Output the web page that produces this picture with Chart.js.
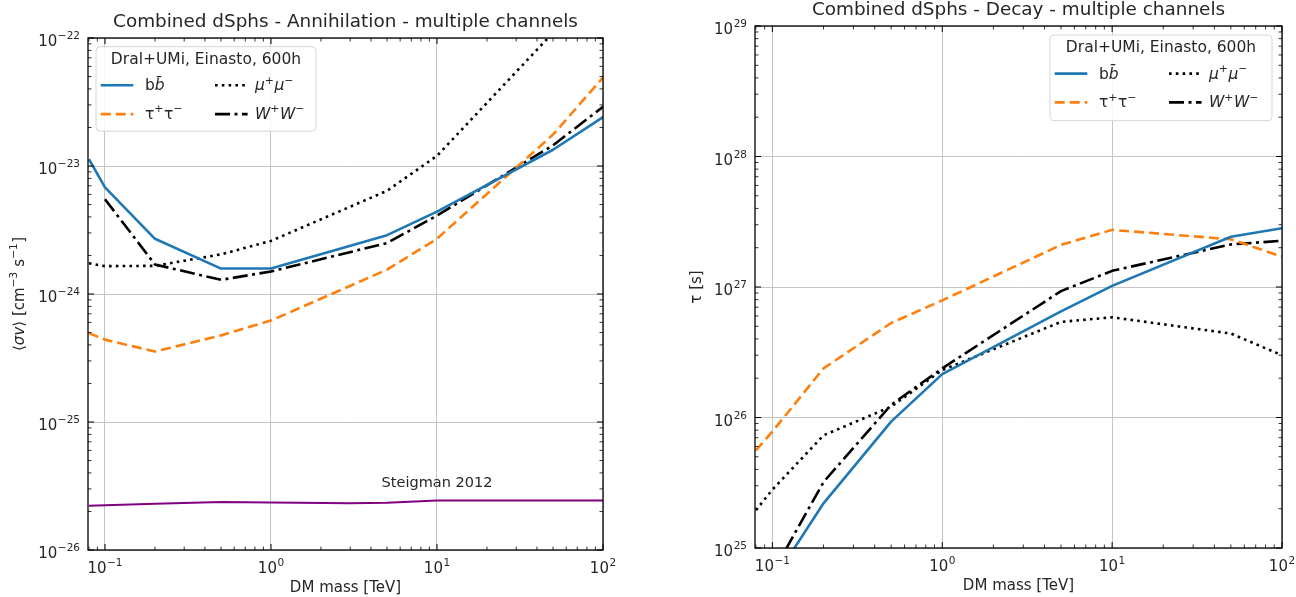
<!DOCTYPE html>
<html>
<head>
<meta charset="utf-8">
<script src="https://cdn.jsdelivr.net/npm/chart.js@4.4.0/dist/chart.umd.min.js"></script>
<style>
  body { margin: 0; background: #fff; }
  #wrap { position: relative; width: 1296px; height: 597px; }
  .box { position: absolute; top: 0; width: 648px; height: 597px; }
</style>
</head>
<body>
<div id="wrap">
  <div class="box" style="left:0"><canvas id="annChart" width="648" height="597"></canvas></div>
  <div class="box" style="left:648px"><canvas id="decChart" width="648" height="597"></canvas></div>
</div>
<script>
// DM masses in TeV
const massAnn = [0.08, 0.1, 0.2, 0.5, 1, 5, 10, 50, 100];
const bbAnn = [1.13e-23, 6.8e-24, 2.7e-24, 1.58e-24, 1.58e-24, 2.88e-24, 4.4e-24, 1.34e-23, 2.41e-23];
const tauAnn = [4.95e-25, 4.4e-25, 3.55e-25, 4.75e-25, 6.2e-25, 1.55e-24, 2.7e-24, 1.76e-23, 4.9e-23];
const muAnn = [1.74e-24, 1.65e-24, 1.66e-24, 2.04e-24, 2.6e-24, 6.4e-24, 1.2e-23, 1.1e-22, 2.2e-22];
const wwAnn = [null, 5.5e-24, 1.7e-24, 1.29e-24, 1.5e-24, 2.5e-24, 4.1e-24, 1.45e-23, 2.9e-23];

const massSteigman = [0.08, 0.2, 0.5, 1, 3, 5, 10, 100];
const steigman = [2.22e-26, 2.3e-26, 2.37e-26, 2.35e-26, 2.32e-26, 2.34e-26, 2.44e-26, 2.44e-26];

const massDec = [0.08, 0.1, 0.2, 0.5, 1, 5, 10, 50, 100];
const bbDec = [null, 5.5e24, 2.2e25, 9.3e25, 2.15e26, 6.5e26, 1.02e27, 2.43e27, 2.82e27];
const tauDec = [5.6e25, 7.8e25, 2.38e26, 5.3e26, 7.9e26, 2.1e27, 2.74e27, 2.32e27, 1.71e27];
const muDec = [1.95e25, 2.8e25, 7.3e25, 1.21e26, 2.31e26, 5.4e26, 5.86e26, 4.4e26, 3.0e26];
const wwDec = [null, 6.4e24, 3.2e25, 1.25e26, 2.38e26, 9.3e26, 1.33e27, 2.12e27, 2.26e27];

const xTicks = [0.1, 1, 10, 100];
const yTicksAnn = [1e-26, 1e-25, 1e-24, 1e-23, 1e-22];
const yTicksDec = [1e25, 1e26, 1e27, 1e28, 1e29];

const FONT = '"DejaVu Sans"';
const TXT = '#262626';
const MINUS = '\u2212';

function lineSet(label, xs, ys, color, dash, width) {
  return {
    label,
    data: xs.map((x, i) => ({ x, y: ys[i] })),
    borderColor: color,
    borderDash: dash,
    borderWidth: width,
    borderCapStyle: 'butt',
    borderJoinStyle: 'round',
    pointRadius: 0,
    fill: false,
    tension: 0,
    clip: 0,
    spanGaps: false
  };
}

function richFont(p, size) {
  return (p.it ? 'italic ' : '') + (p.sup ? size * 0.7 : size) + 'px ' + FONT;
}

function richWidth(ctx, parts, size) {
  return parts.reduce((w, p) => {
    ctx.font = richFont(p, size);
    return w + ctx.measureText(p.t).width + (p.sup ? 0.5 : 0);
  }, 0);
}

// draws a run of text pieces, some italic / superscript; y is the middle line
function drawRich(ctx, parts, x, y, size) {
  ctx.textAlign = 'left';
  ctx.textBaseline = 'middle';
  let cx = x;
  parts.forEach(p => {
    ctx.font = richFont(p, size);
    ctx.fillText(p.t, cx, p.sup ? y - size * 0.36 : y);
    cx += ctx.measureText(p.t).width + (p.sup ? 0.5 : 0);
  });
}

// "10" with raised exponent, mathtext style; y is the baseline
function drawPow(ctx, v, x, y, align) {
  const e = Math.round(Math.log10(v));
  const base = '10', exp = String(e).replace('-', MINUS);
  ctx.textBaseline = 'alphabetic';
  ctx.textAlign = 'left';
  ctx.font = '15px ' + FONT;
  const wb = ctx.measureText(base).width;
  ctx.font = '10.5px ' + FONT;
  const we = ctx.measureText(exp).width;
  const total = wb + 0.5 + we;
  const x0 = align === 'center' ? x - total / 2 : x - total;
  ctx.font = '15px ' + FONT;
  ctx.fillText(base, x0, y);
  ctx.font = '10.5px ' + FONT;
  ctx.fillText(exp, x0 + wb + 0.5, y - 7);
}

// inward ticks on all four sides, black frame, tick labels, titles
const frameTicks = {
  id: 'frameTicks',
  afterDatasetsDraw(chart, args, opts) {
    const { ctx, chartArea: a } = chart;
    const xs = chart.scales.x, ys = chart.scales.y;
    ctx.save();
    ctx.strokeStyle = '#000';
    const each = (scale, fn) => {
      const lo = Math.floor(Math.log10(scale.min)), hi = Math.ceil(Math.log10(scale.max));
      for (let d = lo; d <= hi; d++) {
        for (let k = 1; k <= 9; k++) {
          const v = k * Math.pow(10, d);
          if (v < scale.min * 0.999 || v > scale.max * 1.001) continue;
          fn(scale.getPixelForValue(v), k === 1);
        }
      }
    };
    each(xs, (px, major) => {
      const len = major ? 6 : 3.5;
      ctx.lineWidth = major ? 1 : 0.8;
      ctx.beginPath();
      ctx.moveTo(px, a.bottom); ctx.lineTo(px, a.bottom - len);
      ctx.moveTo(px, a.top); ctx.lineTo(px, a.top + len);
      ctx.stroke();
    });
    each(ys, (py, major) => {
      const len = major ? 6 : 3.5;
      ctx.lineWidth = major ? 1 : 0.8;
      ctx.beginPath();
      ctx.moveTo(a.left, py); ctx.lineTo(a.left + len, py);
      ctx.moveTo(a.right, py); ctx.lineTo(a.right - len, py);
      ctx.stroke();
    });
    ctx.lineWidth = 1.3;
    ctx.strokeRect(a.left, a.top, a.right - a.left, a.bottom - a.top);

    ctx.fillStyle = TXT;
    xs.ticks.forEach(t => drawPow(ctx, t.value, xs.getPixelForValue(t.value), a.bottom + 23, 'center'));
    ys.ticks.forEach(t => drawPow(ctx, t.value, a.left - 8, ys.getPixelForValue(t.value) + 8, 'right'));

    ctx.font = '18.4px ' + FONT;
    ctx.textAlign = 'center';
    ctx.textBaseline = 'middle';
    ctx.fillText(opts.title, (a.left + a.right) / 2, opts.titleY);

    // rotated y-axis title with real superscripts
    ctx.save();
    ctx.translate(opts.yTitleX, (a.top + a.bottom) / 2);
    ctx.rotate(-Math.PI / 2);
    const tw = richWidth(ctx, opts.yTitle, 15);
    drawRich(ctx, opts.yTitle, -tw / 2, 0, 15);
    ctx.restore();

    if (opts.note) {
      ctx.font = '14.5px ' + FONT;
      ctx.textAlign = 'center';
      ctx.textBaseline = 'middle';
      ctx.fillText(opts.note.text, xs.getPixelForValue(opts.note.x), ys.getPixelForValue(opts.note.y));
    }
    ctx.restore();
  }
};

const boxLegend = {
  id: 'boxLegend',
  afterDraw(chart, args, opts) {
    const ctx = chart.ctx;
    const { x, y, w, h } = opts;
    ctx.save();
    ctx.beginPath();
    ctx.roundRect(x, y, w, h, 4);
    ctx.fillStyle = 'rgba(255,255,255,0.85)';
    ctx.fill();
    ctx.strokeStyle = '#d6d6d6';
    ctx.lineWidth = 1;
    ctx.stroke();
    ctx.fillStyle = TXT;
    ctx.font = '15.5px ' + FONT;
    ctx.textAlign = 'center';
    ctx.textBaseline = 'middle';
    ctx.fillText(opts.title, x + w / 2, y + 13);
    opts.items.forEach(it => {
      const ds = chart.data.datasets[it.ds];
      const hx = x + (it.col ? 119 : 4.7);
      const ly = y + (it.row ? 67.4 : 38.6);
      ctx.strokeStyle = ds.borderColor;
      ctx.lineWidth = ds.borderWidth;
      ctx.lineCap = 'butt';
      ctx.setLineDash(ds.borderDash || []);
      ctx.beginPath();
      ctx.moveTo(hx, ly); ctx.lineTo(hx + 32.6, ly);
      ctx.stroke();
      ctx.setLineDash([]);
      ctx.fillStyle = TXT;
      drawRich(ctx, it.parts, x + (it.col ? 159 : 49), ly + 1, 15.5);
    });
    ctx.restore();
  }
};

function logAxis(min, max, ticks, fitFn, title, titlePad) {
  return {
    type: 'logarithmic',
    min, max,
    afterBuildTicks: s => { s.ticks = ticks.map(v => ({ value: v })); },
    afterFit: fitFn,
    grid: { color: '#c4c4c4', lineWidth: 1, drawTicks: false },
    border: { display: false },
    ticks: { display: false },
    title: { display: !!title, text: title || '', font: { family: 'DejaVu Sans', size: 15 }, color: TXT, padding: titlePad }
  };
}

function makeChart(id, cfg) {
  return new Chart(document.getElementById(id), {
    type: 'line',
    data: { datasets: cfg.datasets },
    options: {
      responsive: false,
      animation: false,
      events: [],
      layout: { padding: cfg.padding },
      plugins: {
        legend: { display: false },
        tooltip: { enabled: false },
        title: { display: false },
        frameTicks: { title: cfg.title, titleY: cfg.titleY, note: cfg.note, yTitle: cfg.yTitle, yTitleX: cfg.yTitleX },
        boxLegend: cfg.legend
      },
      scales: {
        x: logAxis(0.079, 100, xTicks, s => { s.height = cfg.xHeight; }, 'DM mass [TeV]', cfg.xTitlePad),
        y: logAxis(cfg.yMin, cfg.yMax, cfg.yTicks, s => { s.width = cfg.yWidth; }, null, 0)
      }
    },
    plugins: [frameTicks, boxLegend]
  });
}

const legendItems = [
  { ds: 0, col: 0, row: 0, parts: [{ t: 'b' }, { t: 'b\u0304', it: true }] },
  { ds: 1, col: 0, row: 1, parts: [{ t: 'τ' }, { t: '+', sup: true }, { t: 'τ' }, { t: MINUS, sup: true }] },
  { ds: 2, col: 1, row: 0, parts: [{ t: 'μ', it: true }, { t: '+', sup: true }, { t: 'μ', it: true }, { t: MINUS, sup: true }] },
  { ds: 3, col: 1, row: 1, parts: [{ t: 'W', it: true }, { t: '+', sup: true }, { t: 'W', it: true }, { t: MINUS, sup: true }] }
];

makeChart('annChart', {
  title: 'Combined dSphs - Annihilation - multiple channels',
  titleY: 22.7,
  padding: { top: 38, right: 45, bottom: 0, left: 0 },
  xHeight: 47,
  yWidth: 88,
  xTitlePad: { top: 0, bottom: 0 },
  yTitleX: 20,
  yTitle: [{ t: '⟨' }, { t: 'σv', it: true }, { t: '⟩ [cm' }, { t: MINUS + '3', sup: true }, { t: ' s' }, { t: MINUS + '1', sup: true }, { t: ']' }],
  yMin: 1e-26, yMax: 1e-22, yTicks: yTicksAnn,
  datasets: [
    lineSet('bb', massAnn, bbAnn, '#1f77b4', [], 2.6),
    lineSet('tautau', massAnn, tauAnn, '#ff7f0e', [10, 5], 2.6),
    lineSet('mumu', massAnn, muAnn, '#000000', [2.6, 4.2], 2.6),
    lineSet('WW', massAnn, wwAnn, '#000000', [15, 4.5, 3, 4.5], 2.6),
    lineSet('Steigman 2012', massSteigman, steigman, '#800080', [], 2)
  ],
  legend: { x: 96, y: 46.7, w: 220, h: 84.5, title: 'Dral+UMi, Einasto, 600h', items: legendItems },
  note: { text: 'Steigman 2012', x: 10, y: 3.35e-26 }
});

makeChart('decChart', {
  title: 'Combined dSphs - Decay - multiple channels',
  titleY: 9.8,
  padding: { top: 26, right: 14, bottom: 0, left: 0 },
  xHeight: 49,
  yWidth: 107,
  xTitlePad: { top: 0, bottom: 2 },
  yTitleX: 49,
  yTitle: [{ t: 'τ [s]' }],
  yMin: 1e25, yMax: 1e29, yTicks: yTicksDec,
  datasets: [
    lineSet('bb', massDec, bbDec, '#1f77b4', [], 2.6),
    lineSet('tautau', massDec, tauDec, '#ff7f0e', [10, 5], 2.6),
    lineSet('mumu', massDec, muDec, '#000000', [2.6, 4.2], 2.6),
    lineSet('WW', massDec, wwDec, '#000000', [15, 4.5, 3, 4.5], 2.6)
  ],
  legend: { x: 402, y: 35, w: 222, h: 85.7, title: 'Dral+UMi, Einasto, 600h', items: legendItems }
});
</script>
</body>
</html>
